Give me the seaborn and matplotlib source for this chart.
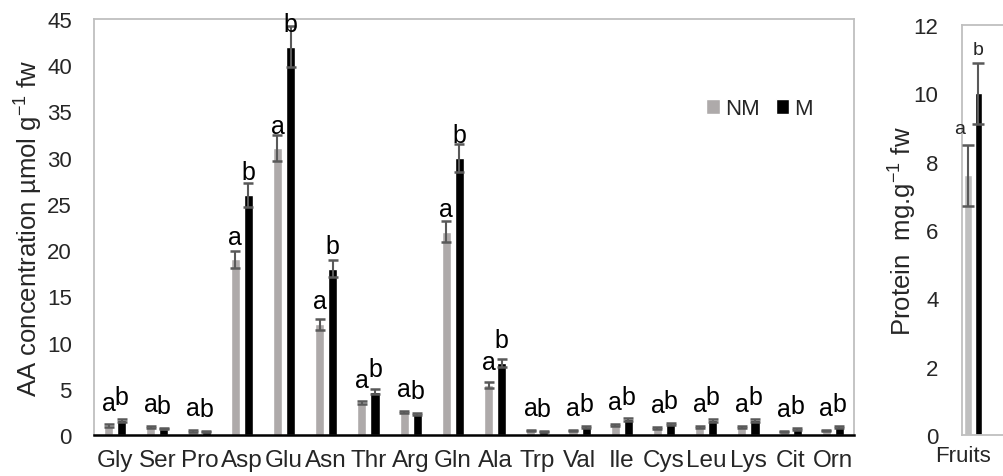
import numpy as np
import pandas as pd
import matplotlib
matplotlib.use("Agg")
import matplotlib.pyplot as plt
import seaborn as sns
from matplotlib.transforms import ScaledTranslation

# ---------------- data ----------------
amino_acids = ['Gly', 'Ser', 'Pro', 'Asp', 'Glu', 'Asn', 'Thr', 'Arg', 'Gln',
               'Ala', 'Trp', 'Val', 'Ile', 'Cys', 'Leu', 'Lys', 'Cit', 'Orn']
nm_mean = [1.0, 0.9, 0.45, 19.0, 31.0, 12.0, 3.5, 2.5, 22.0,
           5.4, 0.45, 0.5, 1.1, 0.8, 0.9, 0.9, 0.4, 0.5]
nm_err = [0.15, 0.12, 0.08, 0.9, 1.4, 0.6, 0.2, 0.1, 1.1,
          0.3, 0.06, 0.08, 0.12, 0.1, 0.12, 0.12, 0.06, 0.08]
m_mean = [1.6, 0.7, 0.35, 26.0, 42.0, 18.0, 4.7, 2.3, 30.0,
          7.8, 0.35, 0.9, 1.7, 1.2, 1.6, 1.6, 0.65, 0.9]
m_err = [0.15, 0.1, 0.06, 1.3, 2.2, 0.9, 0.3, 0.1, 1.5,
         0.4, 0.06, 0.12, 0.15, 0.12, 0.15, 0.15, 0.08, 0.12]
nm_letters = ['a'] * len(amino_acids)
m_letters = ['b'] * len(amino_acids)
groups = ['NM', 'M']

fruit_category = ['Fruits']
fruit_mean = [7.6, 10.0]
fruit_err = [0.9, 0.9]
fruit_letters = ['a', 'b']

aa_yticks = [0, 5, 10, 15, 20, 25, 30, 35, 40, 45]
fruit_yticks = [0, 2, 4, 6, 8, 10, 12]

# ---------------- style ----------------
sns.set_theme(style="white")
plt.rcParams['font.family'] = ['Liberation Sans', 'DejaVu Sans']
plt.rcParams['mathtext.fontset'] = 'custom'
plt.rcParams['mathtext.rm'] = 'Liberation Sans'

NM_COLOR = '#AEAAAA'
M_COLOR = '#000000'
ERR_COLOR = '#595959'
FRAME = '#BFBFBF'

fig = plt.figure(figsize=(10.04, 4.77), dpi=100)
W, H = 1004, 477


def px_axes(x0, y0, x1, y1):
    return fig.add_axes([x0 / W, 1 - y1 / H, (x1 - x0) / W, (y1 - y0) / H])


# ---------------- left panel ----------------
ax = px_axes(94, 20, 854, 436)
df = pd.DataFrame({
    'aa': amino_acids * 2,
    'group': ['NM'] * len(amino_acids) + ['M'] * len(amino_acids),
    'value': nm_mean + m_mean,
})
sns.barplot(data=df, x='aa', y='value', hue='group', hue_order=groups,
            palette={'NM': NM_COLOR, 'M': M_COLOR}, width=0.62, gap=0.3,
            errorbar=None, ax=ax, legend=True, saturation=1)

for cont, means, errs, letters in zip(ax.containers[:2], [nm_mean, m_mean],
                                      [nm_err, m_err], [nm_letters, m_letters]):
    for bar, mu, e, lt in zip(cont, means, errs, letters):
        xc = bar.get_x() + bar.get_width() / 2
        ax.errorbar(xc, mu, yerr=e, fmt='none', ecolor=ERR_COLOR,
                    elinewidth=1.5, capsize=3.6, capthick=1.8, zorder=3)
        ax.text(xc, mu + 1.7, lt, ha='center', va='baseline', fontsize=18,
                color='black', clip_on=False)

ax.set_ylim(0, 45)
ax.set_yticks(aa_yticks)
ax.set_xlim(-0.5, len(amino_acids) - 0.5)
ax.set_xlabel('')
ax.set_ylabel('AA concentration µmol g$^{\\mathregular{-1}}$ fw', fontsize=18.5,
              labelpad=2)
ax.tick_params(axis='y', length=0, pad=16, labelsize=16)
ax.tick_params(axis='x', length=0, pad=10, labelsize=17.5)
for s in ['top', 'left', 'right']:
    ax.spines[s].set_color(FRAME)
    ax.spines[s].set_linewidth(1.3)
ax.spines['bottom'].set_color('black')
ax.spines['bottom'].set_linewidth(1.8)

leg = ax.legend(loc='center', bbox_to_anchor=(0.876, 0.784), ncol=2,
                frameon=False, fontsize=16, handlelength=0.6, handleheight=0.6,
                handletextpad=0.25, columnspacing=0.7, borderpad=0)

# ---------------- right panel ----------------
ax2 = px_axes(962, 26, 1062, 436)
df2 = pd.DataFrame({
    'cat': fruit_category * 2,
    'group': groups,
    'value': fruit_mean,
})
sns.barplot(data=df2, x='cat', y='value', hue='group', hue_order=groups,
            palette={'NM': '#BFBFBF', 'M': M_COLOR}, width=0.8, gap=0.29,
            errorbar=None, ax=ax2, legend=False, saturation=1)
for i, (cont, mu, e, lt) in enumerate(zip(ax2.containers[:2], fruit_mean,
                                          fruit_err, fruit_letters)):
    bar = cont[0]
    xc = bar.get_x() + bar.get_width() / 2
    ax2.errorbar(xc, mu, yerr=e, fmt='none', ecolor=ERR_COLOR,
                 elinewidth=1.5, capsize=4.5, capthick=1.8, zorder=3)
    if i == 0:
        ax2.text(bar.get_x() + bar.get_width() * 0.2, mu + e + 0.35, lt,
                 ha='right', va='baseline', fontsize=14, clip_on=False)
    else:
        ax2.text(xc, mu + e + 0.25, lt, ha='center', va='baseline',
                 fontsize=14, clip_on=False)

ax2.set_ylim(0, 12)
ax2.set_yticks(fruit_yticks)
ax2.set_xlim(-0.42, 3.39)
ax2.set_xlabel('')
ax2.set_ylabel('Protein  mg.g$^{\\mathregular{-1}}$ fw', fontsize=18.5, labelpad=-3)
ax2.tick_params(axis='y', length=0, pad=17, labelsize=16)
ax2.tick_params(axis='x', length=0, pad=7, labelsize=16)
for s in ['top', 'left', 'right', 'bottom']:
    ax2.spines[s].set_color(FRAME)
    ax2.spines[s].set_linewidth(1.3)
shift = ScaledTranslation(-10 / 100, 0, fig.dpi_scale_trans)
for lab in ax2.get_xticklabels():
    lab.set_transform(lab.get_transform() + shift)

fig.savefig('out.png', dpi=100)
